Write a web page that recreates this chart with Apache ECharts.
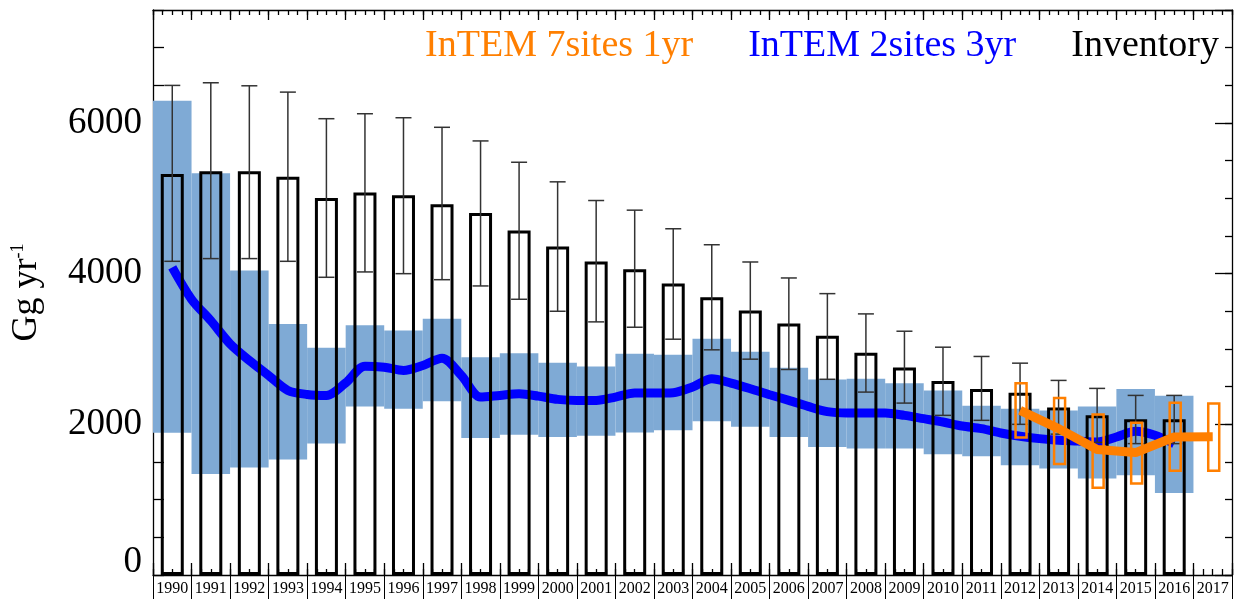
<!DOCTYPE html>
<html>
<head>
<meta charset="utf-8">
<script src="https://cdn.jsdelivr.net/npm/echarts@6/dist/echarts.min.js"></script>
<style>
  html, body { margin: 0; padding: 0; background: #fff; }
  #chart { width: 1237px; height: 599px; }
</style>
</head>
<body>
<div id="chart"></div>
<script>
// years on the category axis
const years = ['1990', '1991', '1992', '1993', '1994', '1995', '1996', '1997', '1998', '1999',
  '2000', '2001', '2002', '2003', '2004', '2005', '2006', '2007', '2008', '2009',
  '2010', '2011', '2012', '2013', '2014', '2015', '2016', '2017'];
// quarter slots, only used for the small ticks
const quarters = years.flatMap(y => [y + 'a', y + 'b', y + 'c', y + 'd']);

// Inventory (hollow bars) with uncertainty
const inventory = [5322, 5358, 5358, 5288, 5004, 5076, 5040, 4923, 4804, 4574,
  4362, 4163, 4057, 3868, 3687, 3510, 3338, 3176, 2949, 2755,
  2574, 2468, 2420, 2225, 2119, 2066, 2066, '-'];
const inventoryLow = [4164, 4200, 4200, 4164, 3952, 4023, 4000, 3920, 3837, 3660,
  3501, 3360, 3289, 3130, 2989, 2865, 2728, 2598, 2428, 2282,
  2119, 2053, 2000, 1870, 1760, 1744, 1744, '-'];
const inventoryHigh = [6499, 6534, 6494, 6410, 6057, 6123, 6070, 5943, 5762, 5479,
  5219, 4971, 4843, 4596, 4384, 4155, 3943, 3735, 3466, 3236,
  3024, 2901, 2812, 2583, 2477, 2384, 2384, '-'];

// InTEM 2sites 3yr uncertainty band (per year)
const band2Low = [1887, 1340, 1428, 1534, 1747, 2237, 2208, 2305, 1819, 1863,
  1832, 1850, 1890, 1921, 2040, 1969, 1832, 1700, 1678, 1680,
  1603, 1576, 1457, 1413, 1280, 1325, 1090, '-'];
const band2High = [6295, 5332, 4041, 3333, 3015, 3316, 3245, 3400, 2892, 2945,
  2817, 2768, 2936, 2923, 3135, 2963, 2751, 2596, 2605, 2547,
  2450, 2247, 2208, 2185, 2238, 2468, 2380, '-'];

// InTEM 2sites 3yr mean (half-year resolution)
const line2Years = [1990, 1990.5, 1991, 1991.5, 1992, 1992.5, 1993, 1993.5, 1994, 1994.5,
  1995, 1995.5, 1996, 1996.5, 1997, 1997.5, 1998, 1998.5, 1999, 1999.5,
  2000, 2000.5, 2001, 2001.5, 2002, 2002.5, 2003, 2003.5, 2004, 2004.5,
  2005, 2005.5, 2006, 2006.5, 2007, 2007.5, 2008, 2008.5, 2009, 2009.5,
  2010, 2010.5, 2011, 2011.5, 2012, 2012.5, 2013, 2013.5, 2014, 2014.5,
  2015, 2015.5, 2016];
const line2Values = [4083, 3660, 3377, 3069, 2848, 2649, 2450, 2397, 2384, 2550,
  2772, 2759, 2715, 2781, 2878, 2649, 2362, 2384, 2406, 2375,
  2331, 2318, 2318, 2362, 2415, 2415, 2420, 2495, 2605, 2547,
  2473, 2393, 2318, 2238, 2168, 2150, 2150, 2150, 2119, 2075,
  2031, 1978, 1943, 1885, 1841, 1810, 1788, 1779, 1766, 1832,
  1907, 1854, 1744];

// InTEM 7sites 1yr
const intem7Years = ['2012', '2013', '2014', '2015', '2016', '2017'];
const intem7Values = [2185, 1943, 1665, 1625, 1832, 1836];
const intem7Low = [1824, 1475, 1158, 1215, 1383, 1383];
const intem7High = [2547, 2348, 2132, 2020, 2285, 2277];

const yTickLabels = [0, 2000, 4000, 6000];

const serif = 'Liberation Serif, DejaVu Serif, serif';
const orange = '#ff7f00';
const blue = '#0000ff';

// position on the hidden value axis: year centre = index + 0.5
const toAxisX = y => y - Number(years[0]) + 0.5;

const errorData = years.map((y, i) => [i, inventoryLow[i], inventoryHigh[i]])
  .filter(d => d[1] !== '-');
const intem7Boxes = intem7Years.map((y, i) => [years.indexOf(y), intem7Low[i], intem7High[i]]);

function renderErrorBar(params, api) {
  const x = api.value(0);
  const lo = api.coord([x, api.value(1)]);
  const hi = api.coord([x, api.value(2)]);
  const half = 8;
  const style = { stroke: '#333', lineWidth: 1.5 };
  return {
    type: 'group',
    children: [
      { type: 'line', shape: { x1: lo[0], y1: lo[1], x2: hi[0], y2: hi[1] }, style },
      { type: 'line', shape: { x1: lo[0] - half, y1: lo[1], x2: lo[0] + half, y2: lo[1] }, style },
      { type: 'line', shape: { x1: hi[0] - half, y1: hi[1], x2: hi[0] + half, y2: hi[1] }, style }
    ]
  };
}

function renderBox(params, api) {
  const x = api.value(0);
  const lo = api.coord([x, api.value(1)]);
  const hi = api.coord([x, api.value(2)]);
  const w = 11;
  return {
    type: 'rect',
    shape: { x: hi[0] - w / 2 + 1, y: hi[1], width: w, height: lo[1] - hi[1] },
    style: { fill: 'none', stroke: orange, lineWidth: 2.5 }
  };
}

const black = { color: '#000', width: 1.3 };

// tick-only category axis
function tickAxis(data, position, length, showLine) {
  return {
    type: 'category', data, position,
    axisLine: { show: showLine, onZero: false, lineStyle: { color: '#000', width: 1.3 } },
    axisTick: { show: true, inside: true, length, interval: 0, lineStyle: { color: '#000', width: 1.3 } },
    axisLabel: { show: false }, splitLine: { show: false }
  };
}

const chart = echarts.init(document.getElementById('chart'));
chart.setOption({
  animation: false,
  textStyle: { fontFamily: serif },
  grid: { left: 153, right: 5, top: 10, bottom: 24 },
  legend: {
    right: 18, top: 27, padding: 0, itemGap: 50,
    itemWidth: 0, itemHeight: 0, icon: 'none', selectedMode: false,
    textStyle: { fontFamily: serif, fontSize: 38 },
    data: [
      { name: 'InTEM 7sites 1yr', textStyle: { color: orange } },
      { name: 'InTEM 2sites 3yr', textStyle: { color: blue } },
      { name: 'Inventory', textStyle: { color: '#000' } }
    ]
  },
  xAxis: [
    {
      type: 'category', data: years, position: 'bottom',
      axisLine: { onZero: false, lineStyle: black },
      axisTick: { show: true, inside: false, length: 24, interval: 0, lineStyle: { color: '#000', width: 1 } },
      axisLabel: { interval: 0, margin: 6, fontSize: 16, fontFamily: serif, color: '#000' },
      splitLine: { show: false }
    },
    { type: 'value', min: 0, max: 28, show: false },
    tickAxis(quarters, 'bottom', 6, false),
    tickAxis(years, 'bottom', 12, false),
    tickAxis(quarters, 'top', 5, true),
    tickAxis(years, 'top', 10, false),
    { type: 'category', data: years, show: false }
  ],
  yAxis: [
    {
      type: 'value', min: 0, max: 7500, interval: 500, position: 'left',
      name: '{a|Gg yr}{b|-1}', nameLocation: 'middle', nameRotate: 90, nameGap: 108,
      nameTextStyle: {
        rich: {
          a: { fontFamily: serif, fontSize: 36, color: '#000' },
          b: { fontFamily: serif, fontSize: 18, color: '#000', verticalAlign: 'top' }
        }
      },
      axisLine: { show: true, onZero: false, lineStyle: black },
      axisTick: { show: true, inside: true, length: 11, lineStyle: { color: '#000', width: 1.3 } },
      axisLabel: {
        margin: 11, fontSize: 37, fontFamily: serif, color: '#000',
        formatter: v => yTickLabels.includes(v) ? (v === 0 ? '{z|0}' : String(v)) : '',
        rich: { z: { fontSize: 37, fontFamily: serif, color: '#000', padding: [0, 0, 25, 0] } }
      },
      splitLine: { show: false }
    },
    {
      type: 'value', min: 0, max: 7500, interval: 500, position: 'right',
      axisLine: { show: true, onZero: false, lineStyle: black },
      axisTick: { show: true, inside: true, length: 7, lineStyle: { color: '#000', width: 1.3 } },
      axisLabel: { show: false }, splitLine: { show: false }
    },
    {
      type: 'value', min: 0, max: 7500, interval: 2000, position: 'right',
      axisLine: { show: false, onZero: false },
      axisTick: { show: true, inside: true, length: 17, lineStyle: { color: '#000', width: 1.3 } },
      axisLabel: { show: false }, splitLine: { show: false }
    }
  ],
  series: [
    {
      type: 'bar', xAxisIndex: 0, yAxisIndex: 0, stack: 'band', barWidth: '100%', z: 1,
      silent: true, itemStyle: { color: 'rgba(0,0,0,0)' },
      data: band2Low
    },
    {
      type: 'bar', xAxisIndex: 0, yAxisIndex: 0, stack: 'band', barWidth: '100%', z: 1,
      silent: true, itemStyle: { color: '#7faad5' },
      data: band2High.map((h, i) => h === '-' ? '-' : h - band2Low[i])
    },
    {
      name: 'InTEM 2sites 3yr', type: 'line', xAxisIndex: 1, yAxisIndex: 0, z: 3,
      showSymbol: false, smooth: 0.3,
      lineStyle: { color: blue, width: 9 },
      data: line2Years.map((y, i) => [toAxisX(y), line2Values[i]])
    },
    {
      name: 'Inventory', type: 'bar', xAxisIndex: 6, yAxisIndex: 0, barWidth: 23, z: 4,
      itemStyle: { color: 'rgba(0,0,0,0)', borderColor: '#000', borderWidth: 3 },
      data: inventory
    },
    {
      type: 'custom', xAxisIndex: 0, yAxisIndex: 0, z: 5,
      renderItem: renderErrorBar, encode: { x: 0, y: [1, 2] },
      data: errorData
    },
    {
      type: 'custom', xAxisIndex: 0, yAxisIndex: 0, z: 6,
      renderItem: renderBox, encode: { x: 0, y: [1, 2] },
      data: intem7Boxes
    },
    {
      name: 'InTEM 7sites 1yr', type: 'line', xAxisIndex: 1, yAxisIndex: 0, z: 7,
      showSymbol: false,
      lineStyle: { color: orange, width: 9 },
      data: intem7Years.map((y, i) => [toAxisX(Number(y)), intem7Values[i]])
    }
  ]
});
</script>
</body>
</html>
